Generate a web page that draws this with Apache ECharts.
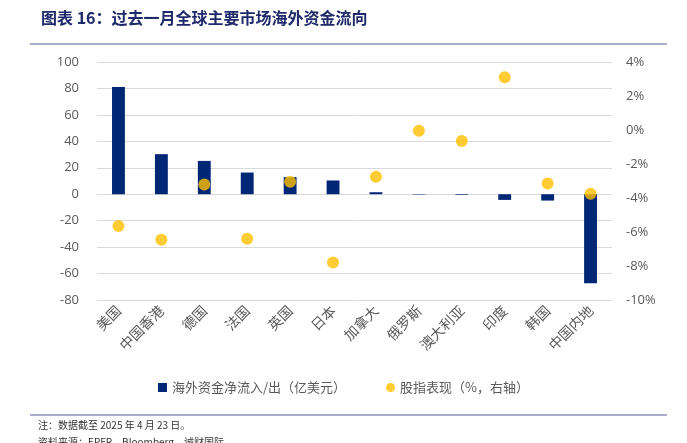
<!DOCTYPE html>
<html>
<head>
<meta charset="utf-8">
<script src="https://cdn.jsdelivr.net/npm/echarts@6/dist/echarts.min.js"></script>
<style>
    html,body{margin:0;padding:0;background:#fff;}
    #main{width:687px;height:443px;}
</style>
</head>
<body>
<div id="main"></div>
<script>
    // 数据
    var categories = ['美国','中国香港','德国','法国','英国','日本','加拿大','俄罗斯','澳大利亚','印度','韩国','中国内地'];
    var flowValues = [81, 30.3, 25.2, 16.4, 12.9, 10.4, 1.5, -0.3, -0.5, -4.3, -4.8, -67.4];
    var indexPerf = [-5.65, -6.45, -3.2, -6.4, -3.05, -7.8, -2.75, -0.05, -0.65, 3.1, -3.15, -3.75];
    var leftTicks = {min: -80, max: 100, interval: 20};
    var rightTicks = {min: -10, max: 4, interval: 2};

    var cjk = '"Noto Sans CJK SC", sans-serif';
    var myChart = echarts.init(document.getElementById('main'));
    var option = {
        animation: false,
        backgroundColor: '#fff',
        title: {
            text: '图表 16：过去一月全球主要市场海外资金流向',
            left: 36, top: 5,
            textStyle: {color: '#1F2A6B', fontSize: 16, fontWeight: 'bold', fontFamily: cjk}
        },
        graphic: [
            {type: 'line', shape: {x1: 30, y1: 44, x2: 667, y2: 44}, style: {stroke: '#8E90B8', lineWidth: 1.5}},
            {type: 'line', shape: {x1: 30, y1: 415, x2: 667, y2: 415}, style: {stroke: '#8E90B8', lineWidth: 1.5}},
            {type: 'text', left: 38, top: 420, style: {text: '注：数据截至 2025 年 4 月 23 日。', fill: '#333', fontSize: 10, fontFamily: cjk}},
            {type: 'text', left: 38, top: 437, style: {text: '资料来源：EPFR，Bloomberg，诚财国际', fill: '#333', fontSize: 10, fontFamily: cjk}}
        ],
        legend: {
            bottom: 44,
            left: 'center',
            itemGap: 40,
            itemWidth: 9, itemHeight: 9,
            textStyle: {color: '#595959', fontSize: 13, fontFamily: cjk},
            data: [
                {name: '海外资金净流入/出（亿美元）', icon: 'rect'},
                {name: '股指表现（%，右轴）', icon: 'circle'}
            ]
        },
        grid: {left: 97, right: 75, top: 62, bottom: 143},
        xAxis: {
            type: 'category',
            data: categories,
            axisLine: {show: false},
            axisTick: {show: false},
            axisLabel: {
                rotate: 45, interval: 0, margin: 8,
                color: '#595959', fontSize: 14, fontFamily: cjk
            }
        },
        yAxis: [
            {
                type: 'value',
                min: leftTicks.min, max: leftTicks.max, interval: leftTicks.interval,
                axisLine: {show: false}, axisTick: {show: false},
                axisLabel: {color: '#595959', fontSize: 13, margin: 18, fontFamily: '"Open Sans", sans-serif'},
                splitLine: {lineStyle: {color: '#D9D9D9', width: 1}}
            },
            {
                type: 'value',
                min: rightTicks.min, max: rightTicks.max, interval: rightTicks.interval,
                axisLine: {show: false}, axisTick: {show: false},
                axisLabel: {color: '#595959', fontSize: 13, margin: 14, formatter: '{value}%', fontFamily: '"Open Sans", sans-serif'},
                splitLine: {show: false}
            }
        ],
        series: [
            {
                name: '海外资金净流入/出（亿美元）',
                type: 'bar',
                data: flowValues,
                barWidth: '30%',
                itemStyle: {color: '#002776'}
            },
            {
                name: '股指表现（%，右轴）',
                type: 'scatter',
                yAxisIndex: 1,
                data: indexPerf,
                symbolSize: 12,
                itemStyle: {color: '#FFC000'}
            }
        ]
    };
    myChart.setOption(option);
</script>
</body>
</html>
